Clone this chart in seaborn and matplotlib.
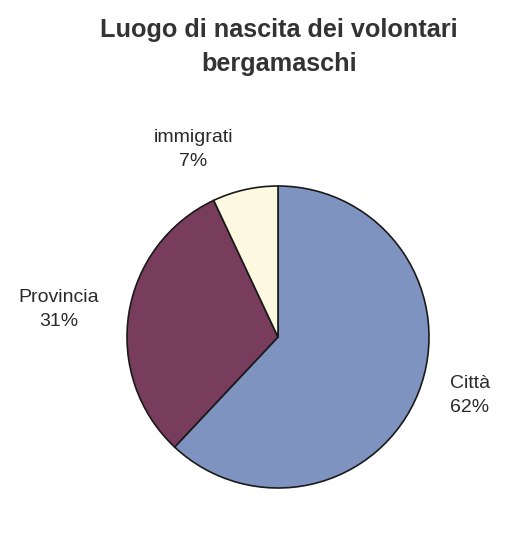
import matplotlib
matplotlib.use("Agg")
import matplotlib.pyplot as plt
import seaborn as sns

categories = ["Città", "Provincia", "immigrati"]
values = [62, 31, 7]
colors = ["#7f93c0", "#783c5c", "#fdf8e0"]
label_pos = [(1.27, -0.39), (-1.45, 0.18), (-0.56, 1.24)]

sns.set_style("white")
plt.rcParams['font.family'] = ['Liberation Sans', 'DejaVu Sans']

fig = plt.figure(figsize=(5.10, 5.36), dpi=100)
cx, cy = 278 / 510, 1 - 337 / 536
rw, rh = 151 / 510, 151 / 536
ax = fig.add_axes([cx - rw, cy - rh, 2 * rw, 2 * rh])
ax.pie(values, colors=colors, startangle=90, counterclock=False,
       wedgeprops=dict(edgecolor="#1a1a1a", linewidth=1.2), radius=1.0)
ax.set_xlim(-1, 1)
ax.set_ylim(-1, 1)
ax.set_aspect("equal")
ax.axis("off")

for cat, v, (x, y) in zip(categories, values, label_pos):
    ax.text(x, y, f"{cat}\n{v}%", ha="center", va="center", fontsize=14,
            color="#2a2a2a", linespacing=1.55, clip_on=False)

fig.text(279 / 510, 1 - 47 / 536, "Luogo di nascita dei volontari\nbergamaschi",
         ha="center", va="center", fontsize=18.2, fontweight="bold",
         color="#333333", linespacing=1.55)

fig.savefig("out.png", dpi=100)
